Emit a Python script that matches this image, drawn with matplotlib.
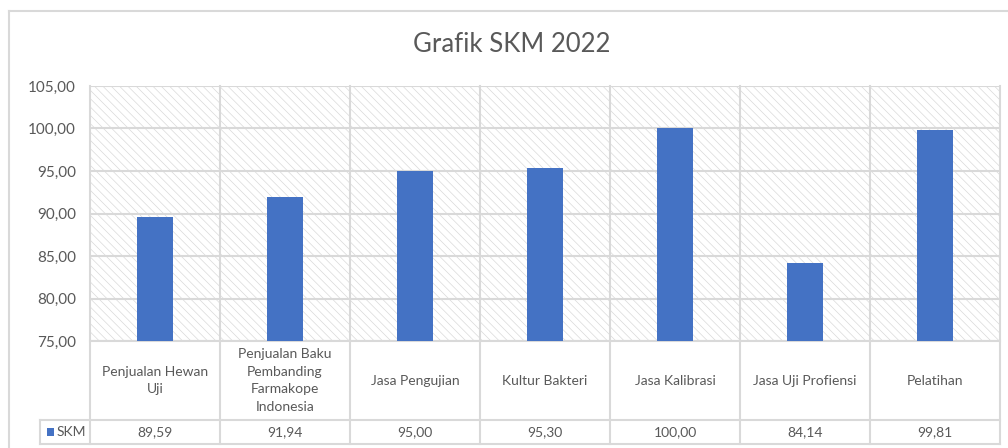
import matplotlib.pyplot as plt
from matplotlib.patches import Rectangle
from matplotlib.lines import Line2D

plt.rcParams['font.family'] = ['Lato', 'DejaVu Sans']
plt.rcParams['hatch.linewidth'] = 0.5
plt.rcParams['hatch.color'] = '#d9d9d9'

# data
categories = ['Penjualan Hewan\nUji', 'Penjualan Baku\nPembanding\nFarmakope\nIndonesia',
              'Jasa Pengujian', 'Kultur Bakteri', 'Jasa Kalibrasi',
              'Jasa Uji Profiensi', 'Pelatihan']
skm = [89.59, 91.94, 95.00, 95.30, 100.00, 84.14, 99.81]
series_name = 'SKM'
title = 'Grafik SKM 2022'

grid_c = '#d9d9d9'
text_c = '#595959'
bar_c = '#4472C4'

W, H = 1008, 448
fig = plt.figure(figsize=(W / 100, H / 100), dpi=100)

# outer chart border (left and top visible)
fig.add_artist(Line2D([9 / W, 9 / W], [0, 1 - 11 / H], color=grid_c, lw=1.5))
fig.add_artist(Line2D([9 / W, 1], [1 - 11 / H, 1 - 11 / H], color=grid_c, lw=1.5))

left, right, top, bottom = 90, 1000, 86, 341
ax = fig.add_axes([left / W, 1 - bottom / H, (right - left) / W, (bottom - top) / H])

n = len(categories)
x = list(range(n))
ax.set_xlim(-0.5, n - 0.5)
ax.set_ylim(75, 105)

# hatched plot background
ax.add_patch(Rectangle((0, 0), 1, 1, transform=ax.transAxes, facecolor='white',
                       edgecolor=grid_c, hatch='\\\\\\\\', lw=0, zorder=0))

yt = [75, 80, 85, 90, 95, 100, 105]
ax.set_yticks(yt)
ax.set_yticklabels([f'{v:.2f}'.replace('.', ',') for v in yt], fontsize=11, color=text_c)
for v in yt:
    ax.axhline(v, color=grid_c, lw=1.5, zorder=1)
ax.set_xticks([])
ax.tick_params(axis='y', length=0, pad=10)
for s in ax.spines.values():
    s.set_visible(False)

ax.bar(x, skm, width=0.27, color=bar_c, zorder=3)

# data table below the plot
tr = ax.get_xaxis_transform()
ph = bottom - top
row1 = -(420 - bottom) / ph
row2 = -(444 - bottom) / ph
leg_x = -0.5 - 50 / 130

for i in range(n + 1):
    ax.add_line(Line2D([i - 0.5, i - 0.5], [row2, 1], transform=tr, color=grid_c,
                       lw=1.5, clip_on=False, zorder=1))
ax.add_line(Line2D([leg_x, leg_x], [row2, row1], transform=tr, color=grid_c, lw=1.5, clip_on=False))
ax.add_line(Line2D([-0.5, n - 0.5], [0, 0], transform=tr, color=grid_c, lw=1.5, clip_on=False))
ax.add_line(Line2D([leg_x, n - 0.5], [row1, row1], transform=tr, color=grid_c, lw=1.5, clip_on=False))
ax.add_line(Line2D([leg_x, n - 0.5], [row2, row2], transform=tr, color=grid_c, lw=1.5, clip_on=False))

for i, (c, v) in enumerate(zip(categories, skm)):
    ax.text(i, row1 / 2, c, transform=tr, ha='center', va='center', fontsize=10,
            color=text_c, linespacing=1.55, clip_on=False)
    ax.text(i, (row1 + row2) / 2, f'{v:.2f}'.replace('.', ','), transform=tr,
            ha='center', va='center', fontsize=10, color=text_c, clip_on=False)

ax.add_patch(Rectangle((leg_x + 0.05, (row1 + row2) / 2 - 0.014), 0.055, 0.03, transform=tr,
                       facecolor=bar_c, edgecolor='none', clip_on=False))
ax.text(leg_x + 0.13, (row1 + row2) / 2, series_name, transform=tr, ha='left', va='center',
        fontsize=10, color=text_c, clip_on=False)

fig.text(512 / W, 1 - 45 / H, title, ha='center', va='center', fontsize=18.5, color=text_c)

fig.savefig('out.png', dpi=100)
